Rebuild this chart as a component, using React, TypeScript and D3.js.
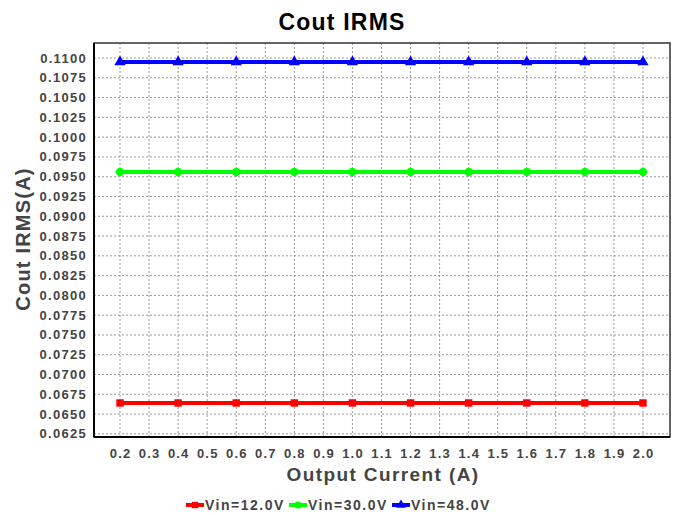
import React, { useEffect, useRef } from 'react';
import * as d3 from 'd3';

const currents = [0.2, 0.4, 0.6, 0.8, 1.0, 1.2, 1.4, 1.6, 1.8, 2.0];
const vin12 = [0.0664, 0.0664, 0.0664, 0.0664, 0.0664, 0.0664, 0.0664, 0.0664, 0.0664, 0.0664];
const vin30 = [0.0956, 0.0956, 0.0956, 0.0956, 0.0956, 0.0956, 0.0956, 0.0956, 0.0956, 0.0956];
const vin48 = [0.1095, 0.1095, 0.1095, 0.1095, 0.1095, 0.1095, 0.1095, 0.1095, 0.1095, 0.1095];
const seriesNames = ['Vin=12.0V', 'Vin=30.0V', 'Vin=48.0V'];
const seriesColors = ['#ff0000', '#00ff00', '#0000ff'];
const xTicks = [0.2, 0.3, 0.4, 0.5, 0.6, 0.7, 0.8, 0.9, 1.0, 1.1, 1.2, 1.3, 1.4, 1.5, 1.6, 1.7, 1.8, 1.9, 2.0];
const yTicks = [
  0.0625, 0.065, 0.0675, 0.07, 0.0725, 0.075, 0.0775, 0.08, 0.0825, 0.085,
  0.0875, 0.09, 0.0925, 0.095, 0.0975, 0.1, 0.1025, 0.105, 0.1075, 0.11
];

const App = () => {
  const ref = useRef<SVGSVGElement>(null);

  useEffect(() => {
    const width = 675;
    const height = 515;
    const margin = { top: 43, right: 5, bottom: 78, left: 94 };
    const iw = width - margin.left - margin.right;
    const ih = height - margin.top - margin.bottom;
    const font = 'Liberation Sans, Arial, sans-serif';

    const svg = d3.select(ref.current);
    svg.selectAll('*').remove();

    const x = d3.scaleLinear().domain([0.1105, 2.093]).range([0, iw]);
    const y = d3.scaleLinear().domain([0.0621, 0.1119]).range([ih, 0]);

    const g = svg.append('g').attr('transform', `translate(${margin.left},${margin.top})`);

    // grid
    g.selectAll('line.vg')
      .data(xTicks)
      .enter()
      .append('line')
      .attr('x1', (d) => x(d))
      .attr('x2', (d) => x(d))
      .attr('y1', 0)
      .attr('y2', ih)
      .attr('stroke', '#999')
      .attr('stroke-dasharray', '2,2');
    g.selectAll('line.hg')
      .data(yTicks)
      .enter()
      .append('line')
      .attr('x1', 0)
      .attr('x2', iw)
      .attr('y1', (d) => y(d))
      .attr('y2', (d) => y(d))
      .attr('stroke', '#999')
      .attr('stroke-dasharray', '2,2');

    // frame
    g.append('rect')
      .attr('width', iw)
      .attr('height', ih)
      .attr('fill', 'none')
      .attr('stroke', '#333')
      .attr('stroke-width', 1.5);
    g.append('line').attr('x1', 0).attr('x2', 0).attr('y1', 0).attr('y2', ih).attr('stroke', '#000').attr('stroke-width', 2);
    g.append('line').attr('x1', 0).attr('x2', iw).attr('y1', ih).attr('y2', ih).attr('stroke', '#000').attr('stroke-width', 2);

    // tick labels
    g.selectAll('text.xt')
      .data(xTicks)
      .enter()
      .append('text')
      .attr('x', (d) => x(d) + 0.6)
      .attr('y', ih + 21)
      .attr('text-anchor', 'middle')
      .style('font-family', font)
      .style('font-weight', 700)
      .style('font-size', '13px')
      .style('letter-spacing', '1.2px')
      .attr('fill', '#444')
      .text((d) => d.toFixed(1));
    g.selectAll('text.yt')
      .data(yTicks)
      .enter()
      .append('text')
      .attr('x', -7)
      .attr('y', (d) => y(d))
      .attr('dy', '0.35em')
      .attr('text-anchor', 'end')
      .style('font-family', font)
      .style('font-weight', 700)
      .style('font-size', '13px')
      .style('letter-spacing', '1.3px')
      .attr('fill', '#444')
      .text((d) => d.toFixed(4));

    // series
    const allSeries = [vin12, vin30, vin48];
    const symbols = [d3.symbolSquare, d3.symbolCircle, d3.symbolTriangle];
    const line = d3
      .line<number>()
      .x((_, i) => x(currents[i]))
      .y((d) => y(d));

    allSeries.forEach((vals, si) => {
      g.append('path')
        .datum(vals)
        .attr('d', line)
        .attr('fill', 'none')
        .attr('stroke', seriesColors[si])
        .attr('stroke-width', 4);
      g.selectAll(`path.m${si}`)
        .data(vals)
        .enter()
        .append('path')
        .attr('d', d3.symbol().type(symbols[si]).size(55))
        .attr('transform', (d, i) => `translate(${x(currents[i])},${y(d)})`)
        .attr('fill', seriesColors[si]);
    });

    // titles
    svg.append('text')
      .attr('x', 342)
      .attr('y', 30)
      .attr('text-anchor', 'middle')
      .style('font-family', font)
      .style('font-weight', 700)
      .style('font-size', '23px')
      .style('letter-spacing', '1.2px')
      .attr('fill', '#000')
      .text('Cout IRMS');
    svg.append('text')
      .attr('x', 383)
      .attr('y', 481)
      .attr('text-anchor', 'middle')
      .style('font-family', font)
      .style('font-weight', 700)
      .style('font-size', '19px')
      .style('letter-spacing', '1.4px')
      .attr('fill', '#444')
      .text('Output Current (A)');
    svg.append('text')
      .attr('transform', 'translate(30,239) rotate(-90)')
      .attr('text-anchor', 'middle')
      .style('font-family', font)
      .style('font-weight', 700)
      .style('font-size', '20px')
      .style('letter-spacing', '1.2px')
      .attr('fill', '#444')
      .text('Cout IRMS(A)');

    // legend
    const legendX = [186, 289, 392];
    seriesNames.forEach((name, si) => {
      const lg = svg.append('g').attr('transform', `translate(${legendX[si]},505)`);
      lg.append('line').attr('x1', 0).attr('x2', 18).attr('y1', 0).attr('y2', 0).attr('stroke', seriesColors[si]).attr('stroke-width', 4);
      lg.append('path')
        .attr('d', d3.symbol().type(symbols[si]).size(40))
        .attr('transform', 'translate(9,0)')
        .attr('fill', seriesColors[si]);
      lg.append('text')
        .attr('x', 19)
        .attr('y', 0)
        .attr('dy', '0.36em')
        .style('font-family', font)
        .style('font-weight', 700)
        .style('font-size', '14px')
        .style('letter-spacing', '1.5px')
        .attr('fill', '#444')
        .text(name);
    });
  }, []);

  return <svg ref={ref} width={675} height={515} style={{ position: 'absolute', left: 0, top: 0 }} />;
};

export default App;
